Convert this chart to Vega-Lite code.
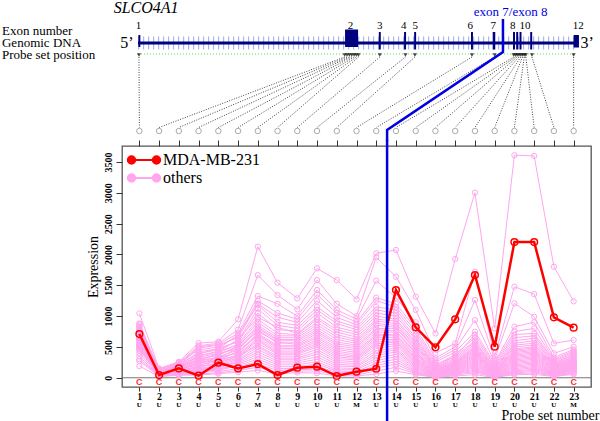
{
  "$schema": "https://vega.github.io/schema/vega-lite/v6.json",
  "background": "white",
  "padding": {"left": 1, "top": 0, "right": 0, "bottom": 0},
  "config": {"font": "Liberation Serif", "view": {"stroke": null}, "axisY": {"labelOverlap": false, "labelSeparation": 0}},
  "datasets": {
    "exons": [
      {"exon": "1", "start": 0.95, "end": 1.05, "top": 35, "bottom": 47, "lx": 0.95},
      {"exon": "2", "start": 11.42, "end": 12.08, "top": 29.5, "bottom": 47, "lx": 11.7},
      {"exon": "3", "start": 13.13, "end": 13.23, "top": 32, "bottom": 49.5, "lx": 13.18},
      {"exon": "4", "start": 14.41, "end": 14.51, "top": 32, "bottom": 49.5, "lx": 14.4},
      {"exon": "5", "start": 14.92, "end": 15.02, "top": 32, "bottom": 49.5, "lx": 14.97},
      {"exon": "6", "start": 17.8, "end": 17.9, "top": 32, "bottom": 49.5, "lx": 17.76},
      {"exon": "7", "start": 18.9, "end": 19.03, "top": 32, "bottom": 49.5, "lx": 18.93},
      {"exon": "8", "start": 19.93, "end": 20.03, "top": 32, "bottom": 49.5, "lx": 19.92},
      {"exon": "", "start": 20.09, "end": 20.19, "top": 32, "bottom": 49.5, "lx": 20.14},
      {"exon": "10", "start": 20.26, "end": 20.36, "top": 32, "bottom": 49.5, "lx": 20.54},
      {"exon": "", "start": 20.8, "end": 20.9, "top": 32, "bottom": 49.5, "lx": 20.85},
      {"exon": "12", "start": 23.0, "end": 23.27, "top": 35, "bottom": 47.5, "lx": 23.23}
    ],
    "probes": [
      {"p": 1, "g": 0.98}, {"p": 2, "g": 11.4}, {"p": 3, "g": 11.52}, {"p": 4, "g": 11.64},
      {"p": 5, "g": 11.76}, {"p": 6, "g": 11.88}, {"p": 7, "g": 11.99}, {"p": 8, "g": 12.1},
      {"p": 9, "g": 13.18}, {"p": 10, "g": 14.48}, {"p": 11, "g": 14.96}, {"p": 12, "g": 17.85},
      {"p": 13, "g": 19.0}, {"p": 14, "g": 19.96}, {"p": 15, "g": 20.05}, {"p": 16, "g": 20.14},
      {"p": 17, "g": 20.23}, {"p": 18, "g": 20.32}, {"p": 19, "g": 20.41}, {"p": 20, "g": 20.5},
      {"p": 21, "g": 20.58}, {"p": 22, "g": 20.89}, {"p": 23, "g": 23.0}
    ],
    "mda": [
      {"p": 1, "v": 709, "call": "C", "type": "U"}, {"p": 2, "v": 44, "call": "C", "type": "U"},
      {"p": 3, "v": 152, "call": "C", "type": "U"}, {"p": 4, "v": 33, "call": "C", "type": "U"},
      {"p": 5, "v": 244, "call": "C", "type": "U"}, {"p": 6, "v": 152, "call": "C", "type": "U"},
      {"p": 7, "v": 222, "call": "C", "type": "M"}, {"p": 8, "v": 44, "call": "C", "type": "U"},
      {"p": 9, "v": 163, "call": "C", "type": "U"}, {"p": 10, "v": 179, "call": "C", "type": "U"},
      {"p": 11, "v": 28, "call": "C", "type": "U"}, {"p": 12, "v": 98, "call": "C", "type": "M"},
      {"p": 13, "v": 146, "call": "C", "type": "U"}, {"p": 14, "v": 1423, "call": "C", "type": "U"},
      {"p": 15, "v": 818, "call": "C", "type": "U"}, {"p": 16, "v": 493, "call": "C", "type": "U"},
      {"p": 17, "v": 948, "call": "C", "type": "U"}, {"p": 18, "v": 1667, "call": "C", "type": "U"},
      {"p": 19, "v": 503, "call": "C", "type": "U"}, {"p": 20, "v": 2202, "call": "C", "type": "U"},
      {"p": 21, "v": 2202, "call": "C", "type": "U"}, {"p": 22, "v": 980, "call": "C", "type": "U"},
      {"p": 23, "v": 812, "call": "C", "type": "M"}
    ],
    "others": [
      {"p":1,"o1":1045,"o2":880,"o3":850,"o4":830,"o5":870,"o6":800,"o7":780,"o8":760,"o9":820,"o10":740,"o11":720,"o12":700,"o13":760,"o14":680,"o15":650,"o16":640,"o17":690,"o18":610,"o19":600,"o20":580,"o21":560,"o22":620,"o23":540,"o24":520,"o25":500,"o26":480,"o27":460,"o28":520,"o29":440,"o30":400,"o31":300,"o32":350,"o33":270,"o34":190},
      {"p":2,"o1":150,"o2":130,"o3":120,"o4":140,"o5":110,"o6":100,"o7":115,"o8":90,"o9":95,"o10":80,"o11":100,"o12":85,"o13":70,"o14":75,"o15":90,"o16":60,"o17":65,"o18":55,"o19":70,"o20":50,"o21":60,"o22":45,"o23":55,"o24":40,"o25":50,"o26":35,"o27":45,"o28":30,"o29":40,"o30":25,"o31":35,"o32":20,"o33":30,"o34":20},
      {"p":3,"o1":260,"o2":240,"o3":220,"o4":250,"o5":200,"o6":190,"o7":210,"o8":180,"o9":170,"o10":190,"o11":160,"o12":150,"o13":170,"o14":140,"o15":130,"o16":150,"o17":120,"o18":125,"o19":110,"o20":130,"o21":100,"o22":105,"o23":90,"o24":110,"o25":85,"o26":80,"o27":95,"o28":70,"o29":75,"o30":60,"o31":65,"o32":50,"o33":55,"o34":40},
      {"p":4,"o1":563,"o2":520,"o3":500,"o4":450,"o5":480,"o6":420,"o7":400,"o8":380,"o9":350,"o10":330,"o11":360,"o12":300,"o13":310,"o14":280,"o15":260,"o16":290,"o17":250,"o18":230,"o19":240,"o20":210,"o21":200,"o22":180,"o23":190,"o24":160,"o25":150,"o26":140,"o27":120,"o28":130,"o29":100,"o30":110,"o31":80,"o32":90,"o33":60,"o34":45},
      {"p":5,"o1":584,"o2":560,"o3":540,"o4":500,"o5":530,"o6":470,"o7":450,"o8":480,"o9":420,"o10":400,"o11":430,"o12":380,"o13":360,"o14":390,"o15":340,"o16":320,"o17":300,"o18":330,"o19":280,"o20":260,"o21":290,"o22":240,"o23":220,"o24":250,"o25":200,"o26":180,"o27":160,"o28":190,"o29":140,"o30":120,"o31":150,"o32":100,"o33":80,"o34":65},
      {"p":6,"o1":948,"o2":780,"o3":720,"o4":680,"o5":650,"o6":700,"o7":600,"o8":580,"o9":620,"o10":550,"o11":530,"o12":500,"o13":520,"o14":470,"o15":450,"o16":480,"o17":420,"o18":400,"o19":430,"o20":380,"o21":360,"o22":340,"o23":320,"o24":350,"o25":300,"o26":280,"o27":260,"o28":240,"o29":220,"o30":200,"o31":180,"o32":150,"o33":120,"o34":90},
      {"p":7,"o1":2126,"o2":1667,"o3":1326,"o4":1250,"o5":1200,"o6":1180,"o7":1120,"o8":1050,"o9":980,"o10":950,"o11":900,"o12":850,"o13":820,"o14":800,"o15":780,"o16":750,"o17":720,"o18":700,"o19":680,"o20":650,"o21":620,"o22":600,"o23":560,"o24":520,"o25":500,"o26":460,"o27":420,"o28":380,"o29":340,"o30":300,"o31":260,"o32":220,"o33":170,"o34":120},
      {"p":8,"o1":1542,"o2":1342,"o3":1200,"o4":1050,"o5":980,"o6":900,"o7":850,"o8":780,"o9":820,"o10":720,"o11":680,"o12":650,"o13":620,"o14":600,"o15":560,"o16":580,"o17":520,"o18":500,"o19":480,"o20":450,"o21":420,"o22":400,"o23":380,"o24":350,"o25":320,"o26":300,"o27":270,"o28":240,"o29":210,"o30":180,"o31":150,"o32":120,"o33":90,"o34":60},
      {"p":9,"o1":1288,"o2":1110,"o3":1000,"o4":950,"o5":900,"o6":850,"o7":800,"o8":760,"o9":720,"o10":700,"o11":680,"o12":650,"o13":620,"o14":600,"o15":570,"o16":540,"o17":520,"o18":500,"o19":470,"o20":450,"o21":420,"o22":400,"o23":380,"o24":350,"o25":320,"o26":300,"o27":270,"o28":240,"o29":210,"o30":180,"o31":150,"o32":130,"o33":110,"o34":85},
      {"p":10,"o1":1775,"o2":1585,"o3":1423,"o4":1350,"o5":1250,"o6":1150,"o7":1100,"o8":1050,"o9":980,"o10":950,"o11":900,"o12":860,"o13":820,"o14":780,"o15":750,"o16":720,"o17":680,"o18":650,"o19":620,"o20":590,"o21":560,"o22":530,"o23":500,"o24":460,"o25":420,"o26":380,"o27":340,"o28":300,"o29":260,"o30":220,"o31":180,"o32":140,"o33":110,"o34":75},
      {"p":11,"o1":1585,"o2":1200,"o3":1100,"o4":1050,"o5":980,"o6":920,"o7":880,"o8":820,"o9":780,"o10":740,"o11":700,"o12":660,"o13":620,"o14":580,"o15":550,"o16":520,"o17":490,"o18":460,"o19":430,"o20":400,"o21":370,"o22":340,"o23":310,"o24":280,"o25":250,"o26":220,"o27":190,"o28":160,"o29":130,"o30":110,"o31":90,"o32":70,"o33":50,"o34":30},
      {"p":12,"o1":1272,"o2":1000,"o3":950,"o4":900,"o5":860,"o6":820,"o7":780,"o8":740,"o9":700,"o10":660,"o11":620,"o12":590,"o13":560,"o14":530,"o15":500,"o16":470,"o17":440,"o18":410,"o19":380,"o20":350,"o21":330,"o22":310,"o23":290,"o24":260,"o25":230,"o26":200,"o27":180,"o28":150,"o29":130,"o30":100,"o31":80,"o32":60,"o33":45,"o34":30},
      {"p":13,"o1":2019,"o2":1954,"o3":1574,"o4":1300,"o5":1250,"o6":1150,"o7":1100,"o8":1050,"o9":1000,"o10":950,"o11":920,"o12":880,"o13":850,"o14":800,"o15":780,"o16":740,"o17":700,"o18":680,"o19":650,"o20":620,"o21":580,"o22":550,"o23":520,"o24":480,"o25":440,"o26":400,"o27":360,"o28":320,"o29":280,"o30":240,"o31":200,"o32":160,"o33":110,"o34":60},
      {"p":14,"o1":2073,"o2":1640,"o3":1300,"o4":1200,"o5":1150,"o6":1100,"o7":1050,"o8":1000,"o9":950,"o10":920,"o11":880,"o12":850,"o13":820,"o14":800,"o15":760,"o16":740,"o17":700,"o18":680,"o19":650,"o20":620,"o21":600,"o22":580,"o23":550,"o24":520,"o25":480,"o26":450,"o27":420,"o28":380,"o29":340,"o30":300,"o31":260,"o32":220,"o33":170,"o34":110},
      {"p":15,"o1":1315,"o2":1100,"o3":900,"o4":800,"o5":750,"o6":700,"o7":650,"o8":620,"o9":580,"o10":550,"o11":520,"o12":500,"o13":470,"o14":450,"o15":420,"o16":400,"o17":380,"o18":350,"o19":330,"o20":310,"o21":290,"o22":270,"o23":250,"o24":230,"o25":210,"o26":190,"o27":170,"o28":150,"o29":130,"o30":110,"o31":95,"o32":80,"o33":65,"o34":50},
      {"p":16,"o1":720,"o2":400,"o3":320,"o4":280,"o5":250,"o6":220,"o7":200,"o8":180,"o9":170,"o10":160,"o11":150,"o12":140,"o13":130,"o14":120,"o15":110,"o16":100,"o17":95,"o18":90,"o19":80,"o20":75,"o21":70,"o22":60,"o23":55,"o24":50,"o25":45,"o26":40,"o27":35,"o28":30,"o29":25,"o30":20,"o31":15,"o32":10,"o33":8,"o34":5},
      {"p":17,"o1":1926,"o2":558,"o3":500,"o4":460,"o5":420,"o6":341,"o7":380,"o8":350,"o9":320,"o10":300,"o11":280,"o12":260,"o13":250,"o14":240,"o15":230,"o16":220,"o17":210,"o18":200,"o19":190,"o20":180,"o21":170,"o22":160,"o23":150,"o24":140,"o25":130,"o26":120,"o27":110,"o28":100,"o29":90,"o30":80,"o31":70,"o32":60,"o33":45,"o34":30},
      {"p":18,"o1":3003,"o2":1721,"o3":1261,"o4":936,"o5":747,"o6":700,"o7":650,"o8":600,"o9":580,"o10":550,"o11":520,"o12":500,"o13":480,"o14":460,"o15":440,"o16":420,"o17":400,"o18":380,"o19":360,"o20":340,"o21":320,"o22":300,"o23":280,"o24":260,"o25":240,"o26":220,"o27":200,"o28":180,"o29":160,"o30":140,"o31":120,"o32":100,"o33":80,"o34":50},
      {"p":19,"o1":800,"o2":350,"o3":300,"o4":250,"o5":230,"o6":200,"o7":180,"o8":160,"o9":150,"o10":140,"o11":130,"o12":120,"o13":110,"o14":100,"o15":95,"o16":90,"o17":85,"o18":80,"o19":75,"o20":70,"o21":65,"o22":60,"o23":55,"o24":50,"o25":45,"o26":40,"o27":35,"o28":30,"o29":25,"o30":20,"o31":15,"o32":12,"o33":8,"o34":5},
      {"p":20,"o1":3611,"o2":1477,"o3":1207,"o4":828,"o5":750,"o6":700,"o7":650,"o8":600,"o9":560,"o10":530,"o11":500,"o12":470,"o13":450,"o14":430,"o15":410,"o16":390,"o17":370,"o18":350,"o19":330,"o20":310,"o21":290,"o22":270,"o23":250,"o24":230,"o25":210,"o26":190,"o27":170,"o28":150,"o29":130,"o30":110,"o31":95,"o32":80,"o33":65,"o34":50},
      {"p":21,"o1":3600,"o2":1358,"o3":990,"o4":900,"o5":800,"o6":720,"o7":680,"o8":640,"o9":600,"o10":560,"o11":530,"o12":500,"o13":480,"o14":460,"o15":440,"o16":420,"o17":400,"o18":380,"o19":360,"o20":340,"o21":320,"o22":300,"o23":280,"o24":260,"o25":240,"o26":220,"o27":200,"o28":180,"o29":160,"o30":140,"o31":120,"o32":100,"o33":80,"o34":55},
      {"p":22,"o1":1802,"o2":558,"o3":396,"o4":330,"o5":300,"o6":280,"o7":260,"o8":240,"o9":230,"o10":220,"o11":210,"o12":200,"o13":190,"o14":180,"o15":170,"o16":160,"o17":150,"o18":140,"o19":130,"o20":120,"o21":110,"o22":100,"o23":90,"o24":80,"o25":70,"o26":60,"o27":55,"o28":50,"o29":45,"o30":40,"o31":35,"o32":30,"o33":25,"o34":20},
      {"p":23,"o1":1240,"o2":612,"o3":503,"o4":460,"o5":440,"o6":420,"o7":400,"o8":380,"o9":360,"o10":340,"o11":320,"o12":300,"o13":290,"o14":280,"o15":270,"o16":260,"o17":250,"o18":240,"o19":230,"o20":220,"o21":210,"o22":200,"o23":190,"o24":180,"o25":170,"o26":160,"o27":150,"o28":140,"o29":130,"o30":120,"o31":100,"o32":85,"o33":70,"o34":55}
    ]
  },
  "spacing": 6,
  "bounds": "flush",
  "resolve": {"legend": {"color": "independent"}},
  "vconcat": [
    {
      "width": 469,
      "height": 140,
      "layer": [
        {
          "data": {"values": [{"label": "Exon number", "row": 31}, {"label": "Genomic DNA", "row": 43}, {"label": "Probe set position", "row": 55}]},
          "mark": {"type": "text", "align": "left", "baseline": "middle", "fontSize": 13, "color": "#000"},
          "encoding": {
            "x": {"datum": -5.96, "type": "quantitative", "scale": {"domain": [0.12, 23.88], "nice": false, "zero": false}, "axis": null},
            "y": {"field": "row", "type": "quantitative", "scale": {"domain": [0, 140], "reverse": true, "nice": false, "zero": false}, "axis": null},
            "text": {"field": "label"}
          }
        },
        {
          "data": {"values": [{"gene": "SLCO4A1"}]},
          "mark": {"type": "text", "fontStyle": "italic", "fontSize": 16, "baseline": "middle", "color": "#000"},
          "encoding": {"x": {"datum": 1.34, "type": "quantitative"}, "y": {"datum": 8, "type": "quantitative"}, "text": {"field": "gene"}}
        },
        {
          "data": {"values": [{}]},
          "mark": {"type": "rule", "stroke": "#aab6ee", "strokeWidth": 13, "strokeDash": [1.2, 3.8]},
          "encoding": {"x": {"datum": 0.93, "type": "quantitative"}, "x2": {"datum": 23.12}, "y": {"datum": 43, "type": "quantitative"}}
        },
        {
          "data": {"values": [{}]},
          "mark": {"type": "rule", "stroke": "#000080", "strokeWidth": 3},
          "encoding": {"x": {"datum": 0.93, "type": "quantitative"}, "x2": {"datum": 23.12}, "y": {"datum": 43, "type": "quantitative"}}
        },
        {
          "data": {"name": "exons"},
          "mark": {"type": "rect", "color": "#000080"},
          "encoding": {"x": {"field": "start", "type": "quantitative"}, "x2": {"field": "end"}, "y": {"field": "top", "type": "quantitative"}, "y2": {"field": "bottom"}}
        },
        {
          "data": {"name": "exons"},
          "mark": {"type": "text", "fontSize": 11, "baseline": "middle", "color": "#000"},
          "encoding": {"x": {"field": "lx", "type": "quantitative"}, "y": {"datum": 25.5, "type": "quantitative"}, "text": {"field": "exon"}}
        },
        {
          "data": {"values": [{"end": "5’", "pos": 0.37}, {"end": "3’", "pos": 23.68}]},
          "mark": {"type": "text", "fontSize": 16, "baseline": "middle", "color": "#000"},
          "encoding": {"x": {"field": "pos", "type": "quantitative"}, "y": {"datum": 43, "type": "quantitative"}, "text": {"field": "end"}}
        },
        {
          "data": {"values": [{}]},
          "mark": {"type": "rule", "stroke": "#55dd55", "strokeWidth": 1, "strokeDash": [1, 2]},
          "encoding": {"x": {"datum": 0.93, "type": "quantitative"}, "x2": {"datum": 23.12}, "y": {"datum": 54, "type": "quantitative"}}
        },
        {
          "data": {"name": "probes"},
          "mark": {"type": "rule", "stroke": "#444", "strokeWidth": 1, "strokeDash": [1, 1.5]},
          "encoding": {"x": {"field": "g", "type": "quantitative"}, "x2": {"field": "p"}, "y": {"datum": 57, "type": "quantitative"}, "y2": {"datum": 127.5}}
        },
        {
          "data": {"name": "probes"},
          "mark": {"type": "point", "shape": "triangle-down", "filled": true, "color": "#000", "size": 18},
          "encoding": {"x": {"field": "g", "type": "quantitative"}, "y": {"datum": 55, "type": "quantitative"}}
        },
        {
          "data": {"name": "probes"},
          "mark": {"type": "point", "filled": false, "color": "#888", "size": 30, "strokeWidth": 1},
          "encoding": {"x": {"field": "p", "type": "quantitative"}, "y": {"datum": 131, "type": "quantitative"}}
        },
        {
          "data": {"values": [{"o": 1, "bx": 19.42, "by": 19}, {"o": 2, "bx": 19.42, "by": 52}, {"o": 3, "bx": 13.55, "by": 130}, {"o": 4, "bx": 13.55, "by": 141}]},
          "mark": {"type": "line", "color": "#0000e0", "strokeWidth": 2.5},
          "encoding": {"x": {"field": "bx", "type": "quantitative"}, "y": {"field": "by", "type": "quantitative"}, "order": {"field": "o"}}
        },
        {
          "data": {"values": [{"t": "exon 7/exon 8"}]},
          "mark": {"type": "text", "fontSize": 13, "baseline": "middle", "color": "#0000e0"},
          "encoding": {"x": {"datum": 19.81, "type": "quantitative"}, "y": {"datum": 12, "type": "quantitative"}, "text": {"field": "t"}}
        }
      ]
    },
    {
      "width": 469,
      "height": 241,
      "view": {"stroke": "#555", "strokeWidth": 1.3},
      "resolve": {"axis": {"x": "independent"}},
      "layer": [
        {
          "data": {"values": [{}]},
          "mark": {"type": "rule", "stroke": "#777", "strokeWidth": 1},
          "encoding": {
            "y": {"datum": 0, "type": "quantitative", "scale": {"domain": [-150, 3760], "nice": false, "zero": false},
              "axis": {"values": [0, 500, 1000, 1500, 2000, 2500, 3000, 3500], "tickCount": 8, "format": "d", "labelOverlap": false, "labelSeparation": 0, "labelFlush": false, "tickSize": 6, "labelAngle": 270, "labelAlign": "center", "labelBaseline": "bottom", "labelPadding": 3, "labelFontSize": 10, "labelFontWeight": "bold", "labelColor": "#000", "tickColor": "#333", "domain": false, "grid": false, "title": "Expression", "titleFontSize": 14, "titleFontWeight": "normal", "titleColor": "#000", "titlePadding": 3}}
          }
        },
        {
          "data": {"name": "others"},
          "transform": [{"fold": ["o1","o2","o3","o4","o5","o6","o7","o8","o9","o10","o11","o12","o13","o14","o15","o16","o17","o18","o19","o20","o21","o22","o23","o24","o25","o26","o27","o28","o29","o30","o31","o32","o33","o34"], "as": ["sample", "value"]}],
          "mark": {"type": "line", "strokeWidth": 1, "point": {"filled": false, "size": 28, "strokeWidth": 1}},
          "encoding": {
            "x": {"field": "p", "type": "quantitative", "scale": {"domain": [0.12, 23.88], "nice": false, "zero": false},
              "axis": {"values": [1,2,3,4,5,6,7,8,9,10,11,12,13,14,15,16,17,18,19,20,21,22,23], "format": "d", "tickSize": 4, "labelPadding": 0, "labelFontSize": 10, "labelFontWeight": "bold", "labelColor": "#000", "tickColor": "#333", "domain": false, "grid": false, "labelFlush": false, "labelOverlap": false, "title": "Probe set number", "titleFontSize": 14, "titleFontWeight": "normal", "titleColor": "#000", "titleAlign": "right", "titleAnchor": "end", "titleX": 477, "titleY": 32, "titleBaseline": "alphabetic"}},
            "y": {"field": "value", "type": "quantitative",
              "axis": {"values": [0, 500, 1000, 1500, 2000, 2500, 3000, 3500], "tickCount": 8, "format": "d", "labelOverlap": false, "labelSeparation": 0, "labelFlush": false, "tickSize": 6, "labelAngle": 270, "labelAlign": "center", "labelBaseline": "bottom", "labelPadding": 3, "labelFontSize": 10, "labelFontWeight": "bold", "labelColor": "#000", "tickColor": "#333", "domain": false, "grid": false, "title": "Expression", "titleFontSize": 14, "titleFontWeight": "normal", "titleColor": "#000", "titlePadding": 3}},
            "detail": {"field": "sample"},
            "color": {"datum": "others", "scale": {"domain": ["MDA-MB-231", "others"], "range": ["#ff0000", "#ffa6ee"]},
              "legend": {"title": null, "orient": "none", "legendX": 14, "legendY": 6, "padding": 0, "labelFontSize": 16, "labelFont": "Liberation Serif", "labelColor": "#000", "symbolType": "M-2,0L2,0M-1.4,0A0.6,0.6 0 1,1 -2.6,0A0.6,0.6 0 1,1 -1.4,0M2.6,0A0.6,0.6 0 1,1 1.4,0A0.6,0.6 0 1,1 2.6,0", "symbolSize": 156, "symbolStrokeWidth": 2, "labelOffset": 11, "rowPadding": 2,
                "encode": {"symbols": {"update": {"fill": {"scale": "color", "field": "value"}, "stroke": {"scale": "color", "field": "value"}}}}}}
          }
        },
        {
          "data": {"name": "mda"},
          "mark": {"type": "line", "strokeWidth": 2.5, "point": {"filled": false, "size": 45, "strokeWidth": 1.5}},
          "encoding": {
            "x": {"field": "p", "type": "quantitative",
              "axis": {"orient": "top", "values": [1,2,3,4,5,6,7,8,9,10,11,12,13,14,15,16,17,18,19,20,21,22,23], "labels": false, "tickSize": 6, "tickColor": "#333", "domain": false, "grid": false, "title": null}},
            "y": {"field": "v", "type": "quantitative",
              "axis": {"values": [0, 500, 1000, 1500, 2000, 2500, 3000, 3500], "tickCount": 8, "format": "d", "labelOverlap": false, "labelSeparation": 0, "labelFlush": false, "tickSize": 6, "labelAngle": 270, "labelAlign": "center", "labelBaseline": "bottom", "labelPadding": 3, "labelFontSize": 10, "labelFontWeight": "bold", "labelColor": "#000", "tickColor": "#333", "domain": false, "grid": false, "title": "Expression", "titleFontSize": 14, "titleFontWeight": "normal", "titleColor": "#000", "titlePadding": 3}},
            "color": {"datum": "MDA-MB-231"}
          }
        },
        {
          "data": {"name": "mda"},
          "mark": {"type": "text", "font": "Liberation Sans", "fontSize": 9, "fontWeight": "bold", "color": "#ff3030", "baseline": "middle"},
          "encoding": {"x": {"field": "p", "type": "quantitative", "axis": null}, "y": {"datum": -72, "type": "quantitative"}, "text": {"field": "call"}}
        },
        {
          "data": {"name": "mda"},
          "mark": {"type": "text", "fontSize": 7, "fontWeight": "bold", "color": "#000", "baseline": "middle"},
          "encoding": {"x": {"field": "p", "type": "quantitative", "axis": null}, "y": {"datum": -440, "type": "quantitative"}, "text": {"field": "type"}}
        },
        {
          "data": {"values": [{}]},
          "mark": {"type": "rule", "stroke": "#0000e0", "strokeWidth": 2.5},
          "encoding": {"x": {"datum": 13.55, "type": "quantitative", "axis": null}, "y": {"datum": 3858, "type": "quantitative"}, "y2": {"datum": -703}}
        }
      ]
    }
  ]
}
